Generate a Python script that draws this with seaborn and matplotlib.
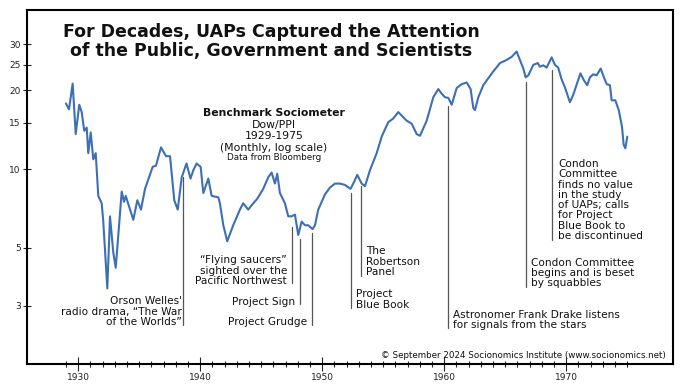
import matplotlib
matplotlib.use("Agg")
import matplotlib.pyplot as plt
import seaborn as sns
import pandas as pd

# Dow/PPI (decimal year, ratio)
years = [
    1928.99, 1929.24, 1929.54, 1929.79, 1930.08, 1930.28, 1930.49, 1930.69, 1930.82, 1931.02,
    1931.23, 1931.43, 1931.64, 1931.92, 1932.05, 1932.38, 1932.60, 1932.87, 1933.07, 1933.56,
    1933.75, 1933.89, 1934.51, 1934.84, 1935.14, 1935.47, 1936.10, 1936.37, 1936.78, 1937.19,
    1937.52, 1937.87, 1938.15, 1938.48, 1938.87, 1939.20, 1939.43, 1939.70, 1940.03, 1940.25,
    1940.66, 1940.93, 1941.48, 1941.61, 1941.89, 1942.21, 1942.70, 1943.25, 1943.52, 1943.93,
    1944.34, 1944.67, 1945.16, 1945.57, 1945.85, 1946.12, 1946.31, 1946.53, 1946.94, 1947.21,
    1947.49, 1947.76, 1948.03, 1948.31, 1948.58, 1948.85, 1949.21, 1949.40, 1949.67, 1950.22,
    1950.63, 1951.04, 1951.45, 1951.86, 1952.31, 1952.54, 1952.87, 1953.23, 1953.50, 1953.91,
    1954.46, 1954.87, 1955.41, 1955.82, 1956.23, 1956.51, 1956.92, 1957.33, 1957.74, 1958.01,
    1958.56, 1959.10, 1959.51, 1959.79, 1960.06, 1960.33, 1960.61, 1961.02, 1961.43, 1961.84,
    1962.16, 1962.38, 1962.52, 1962.79, 1963.20, 1963.48, 1964.02, 1964.57, 1965.11, 1965.52,
    1965.93, 1966.20, 1966.48, 1966.67, 1966.89, 1967.30, 1967.66, 1967.84, 1968.11, 1968.39,
    1968.80, 1969.07, 1969.34, 1969.62, 1969.89, 1970.30, 1970.57, 1970.85, 1971.16, 1971.45,
    1971.72, 1971.94, 1972.21, 1972.49, 1972.82, 1973.09, 1973.31, 1973.58, 1973.72, 1974.02,
    1974.30, 1974.57, 1974.70, 1974.84, 1975.00,
]
values = [
    17.8, 16.9, 21.2, 13.6, 17.6, 16.5, 14.0, 14.4, 11.5, 13.8,
    10.9, 11.5, 7.9, 7.4, 6.3, 3.5, 6.6, 4.8, 4.2, 8.2,
    7.5, 7.9, 6.4, 7.6, 7.0, 8.4, 10.2, 10.3, 12.1, 11.2,
    11.2, 7.6, 7.0, 9.3, 10.5, 9.2, 9.9, 10.5, 10.2, 8.1,
    9.2, 7.9, 7.8, 7.4, 6.1, 5.3, 6.1, 7.0, 7.4, 7.0,
    7.4, 7.7, 8.4, 9.3, 9.7, 8.8, 9.6, 8.1, 7.4, 6.6,
    6.6, 6.7, 5.6, 6.3, 6.1, 6.1, 5.9, 6.1, 7.0, 8.0,
    8.5, 8.8, 8.8, 8.7, 8.4, 8.8, 9.5, 8.8, 8.6, 9.9,
    11.5, 13.3, 15.1, 15.6, 16.5, 16.0, 15.3, 14.9, 13.6, 13.4,
    15.3, 18.8, 20.2, 19.4, 18.8, 18.7, 17.6, 20.4, 21.1, 21.4,
    20.2, 17.1, 16.8, 18.8, 20.9, 21.8, 23.6, 25.4, 26.1, 26.8,
    28.1, 26.1, 24.2, 22.4, 22.8, 25.0, 25.4, 24.6, 24.9, 24.4,
    26.7, 25.0, 24.4, 22.0, 20.5, 18.0, 19.2, 21.0, 23.2, 21.8,
    20.9, 22.4, 23.0, 22.8, 24.2, 22.4, 21.1, 20.9, 18.3, 18.3,
    16.8, 14.5, 12.4, 12.0, 13.3,
]

# event marker lines: year, top and bottom of the leader line (ratio units)
event_years = [1938.61, 1947.49, 1948.17, 1949.16, 1952.34, 1953.17, 1960.29, 1966.72, 1968.84]
event_tops = [9.3, 6.0, 5.4, 5.7, 8.1, 8.6, 17.4, 21.5, 23.8]
event_bottoms = [2.54, 3.67, 3.05, 2.54, 2.95, 3.91, 2.47, 3.53, 5.36]

y_ticks = [3, 5, 10, 15, 20, 25, 30]
x_ticks = [1930, 1940, 1950, 1960, 1970]
x_minor = [y for y in range(1929, 1976) if y % 10 != 0]

sns.set_style("white")
plt.rcParams['font.family'] = ['DejaVu Sans']

fig = plt.figure(figsize=(7, 3.85), dpi=100)
ax = fig.add_axes([0.0381, 0.0538, 0.9237, 0.9203])

df = pd.DataFrame({'Year': years, 'Ratio': values})
sns.lineplot(data=df, x='Year', y='Ratio', ax=ax, color='#3d6fb5', lw=1.5)

for yr, top, bot in zip(event_years, event_tops, event_bottoms):
    ax.plot([yr, yr], [bot, top], color='#555555', lw=0.9)

ax.set_yscale('log')
ax.set_xlim(1925.77, 1978.77)
ax.set_ylim(1.797, 40.5)
ax.set_yticks(y_ticks, labels=[str(t) for t in y_ticks])
ax.yaxis.set_minor_locator(matplotlib.ticker.NullLocator())
ax.set_xticks(x_ticks, labels=[str(t) for t in x_ticks])
ax.set_xticks(x_minor, minor=True)
ax.set_xlabel('')
ax.set_ylabel('')

for s in ax.spines.values():
    s.set_color('black')
    s.set_linewidth(1.5)

ax.tick_params(axis='x', which='major', bottom=True, direction='inout', length=10, width=0.8,
               labelsize=6.5, pad=1.5, color='#222222', labelcolor='#222222')
ax.tick_params(axis='x', which='minor', bottom=True, direction='inout', length=4, width=0.8,
               color='#222222')
ax.tick_params(axis='y', which='major', left=True, direction='inout', length=5.5, width=0.8,
               labelsize=6.5, pad=1.5, color='#222222', labelcolor='#222222')


def put(x, y, s, **kw):
    fig.text(x / 700, 1 - y / 385, s, va='center', color='#111111', **kw)


put(271, 32, 'For Decades, UAPs Captured the Attention', ha='center', fontsize=12.5, fontweight='bold')
put(271, 51, 'of the Public, Government and Scientists', ha='center', fontsize=12.5, fontweight='bold')

put(274, 112.7, 'Benchmark Sociometer', ha='center', fontsize=7.8, fontweight='bold')
put(274, 125, 'Dow/PPI', ha='center', fontsize=7.8)
put(274, 136, '1929-1975', ha='center', fontsize=7.8)
put(274, 147.7, '(Monthly, log scale)', ha='center', fontsize=7.8)
put(274, 157.3, 'Data from Bloomberg', ha='center', fontsize=6.3)

fs = 7.6
ls = 1.03
put(181.5, 311.7, 'Orson Welles\'\nradio drama, \u201cThe War\nof the Worlds\u201d', ha='right',
    fontsize=fs, linespacing=ls, multialignment='right')
put(287, 270.6, '\u201cFlying saucers\u201d\nsighted over the\nPacific Northwest', ha='right',
    fontsize=fs, linespacing=ls, multialignment='right')
put(295, 301.7, 'Project Sign', ha='right', fontsize=fs)
put(307.3, 322.3, 'Project Grudge', ha='right', fontsize=fs)
put(356.3, 299.4, 'Project\nBlue Book', ha='left', fontsize=fs, linespacing=ls)
put(366, 261.7, 'The\nRobertson\nPanel', ha='left', fontsize=fs, linespacing=ls)
put(452.9, 319.9, 'Astronomer Frank Drake listens\nfor signals from the stars', ha='left',
    fontsize=fs, linespacing=ls)
put(531.3, 273.1, 'Condon Committee\nbegins and is beset\nby squabbles', ha='left',
    fontsize=fs, linespacing=ls)
put(558, 200, 'Condon\nCommittee\nfinds no value\nin the study\nof UAPs; calls\nfor Project\n'
    'Blue Book to\nbe discontinued', ha='left', fontsize=fs, linespacing=ls)

put(666, 355, '\u00a9 September 2024 Socionomics Institute (www.socionomics.net)', ha='right',
    fontsize=6.3)

fig.savefig('out.png', dpi=100)
